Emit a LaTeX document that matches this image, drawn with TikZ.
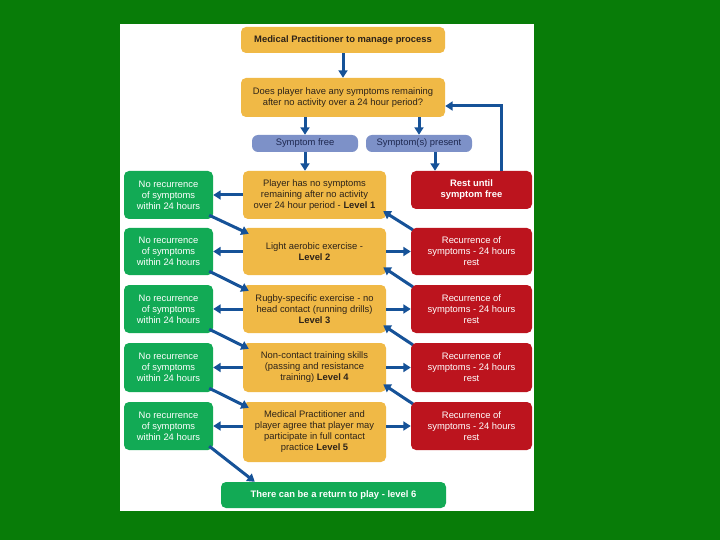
\documentclass[tikz,border=0pt]{standalone}
\usepackage{fontspec}
\setmainfont{Liberation Sans}
\usetikzlibrary{arrows.meta}
\definecolor{bggreen}{RGB}{8,124,8}
\definecolor{boxorange}{RGB}{240,185,70}
\definecolor{boxgreen}{RGB}{18,170,85}
\definecolor{boxred}{RGB}{188,20,30}
\definecolor{boxblue}{RGB}{125,145,200}
\definecolor{arrblue}{RGB}{22,82,152}
\definecolor{darktext}{RGB}{45,35,25}
\definecolor{navytext}{RGB}{30,40,80}
\tikzset{
  base/.style={rounded corners=5pt, inner sep=1pt, align=center, font=\fontsize{9.4}{11}\selectfont},
  obox/.style={base, fill=boxorange, text=darktext},
  gbox/.style={base, fill=boxgreen, text=white},
  rbox/.style={base, fill=boxred, text=white},
  pbox/.style={base, fill=boxblue, text=navytext, rounded corners=6pt},
  arr/.style={draw=arrblue, line width=3pt, -{Triangle[length=7.5pt,width=9pt]}},
}
\begin{document}
\begin{tikzpicture}[x=1pt,y=-1pt]
\fill[bggreen] (0,0) rectangle (720,540);
\useasboundingbox (0,0) rectangle (720,540);
\fill[white] (120,24) rectangle (534,511);

\node[obox, minimum width=204pt, minimum height=26pt] (top) at (343,40) {\textbf{Medical Practitioner to manage process}};
\node[obox, minimum width=204pt, minimum height=39pt] (q) at (343,97.5) {Does player have any symptoms remaining\\after no activity over a 24 hour period?};
\node[pbox, minimum width=106pt, minimum height=17pt] (sf) at (305,143.5) {Symptom free};
\node[pbox, minimum width=106pt, minimum height=17pt] (sp) at (419,143.5) {Symptom(s) present};
\node[rbox, minimum width=121pt, minimum height=38pt] (rest) at (471.5,190) {\textbf{Rest until}\\\textbf{symptom free}};

\node[obox, minimum width=143pt, minimum height=48pt] (l1) at (314.5,195) {Player has no symptoms\\remaining after no activity\\over 24 hour period - \textbf{Level 1}};
\node[obox, minimum width=143pt, minimum height=47pt] (l2) at (314.5,251.5) {Light aerobic exercise -\\\textbf{Level 2}};
\node[obox, minimum width=143pt, minimum height=48pt] (l3) at (314.5,309) {Rugby-specific exercise - no\\head contact (running drills)\\\textbf{Level 3}};
\node[obox, minimum width=143pt, minimum height=49pt] (l4) at (314.5,367.5) {Non-contact training skills\\(passing and resistance\\training) \textbf{Level 4}};
\node[obox, minimum width=143pt, minimum height=60pt] (l5) at (314.5,432) {Medical Practitioner and\\player agree that player may\\participate in full contact\\practice \textbf{Level 5}};

\node[gbox, minimum width=89pt, minimum height=48pt] (g1) at (168.5,195) {No recurrence\\of symptoms\\within 24 hours};
\node[gbox, minimum width=89pt, minimum height=47pt] (g2) at (168.5,251.5) {No recurrence\\of symptoms\\within 24 hours};
\node[gbox, minimum width=89pt, minimum height=48pt] (g3) at (168.5,309) {No recurrence\\of symptoms\\within 24 hours};
\node[gbox, minimum width=89pt, minimum height=49pt] (g4) at (168.5,367.5) {No recurrence\\of symptoms\\within 24 hours};
\node[gbox, minimum width=89pt, minimum height=48pt] (g5) at (168.5,426) {No recurrence\\of symptoms\\within 24 hours};

\node[rbox, minimum width=121pt, minimum height=47pt] (r2) at (471.5,251.5) {Recurrence of\\symptoms - 24 hours\\rest};
\node[rbox, minimum width=121pt, minimum height=48pt] (r3) at (471.5,309) {Recurrence of\\symptoms - 24 hours\\rest};
\node[rbox, minimum width=121pt, minimum height=49pt] (r4) at (471.5,367.5) {Recurrence of\\symptoms - 24 hours\\rest};
\node[rbox, minimum width=121pt, minimum height=48pt] (r5) at (471.5,426) {Recurrence of\\symptoms - 24 hours\\rest};

\node[gbox, minimum width=225pt, minimum height=26pt] (ret) at (333.5,495) {\textbf{There can be a return to play - level 6}};

% top flow
\draw[arr] (top) -- (q);
\draw[arr] (q.south -| sf.north) -- (sf.north);
\draw[arr] (q.south -| sp.north) -- (sp.north);
\draw[arr] (sf.south) -- (sf.south |- l1.north);
\draw[arr] ([xshift=16pt]sp.south) -- ([xshift=16pt]sp.south |- rest.north);
\draw[arr] ([xshift=29.5pt]rest.north) |- ([yshift=-8.5pt]q.east);

% left arrows
\foreach \i in {1,...,5} { \draw[arr] (l\i.west |- g\i) -- (g\i.east); }
% right arrows
\foreach \i in {2,...,5} { \draw[arr] (l\i.east |- r\i) -- (r\i.west); }
% green to next level
\foreach \i/\j in {1/2,2/3,3/4,4/5} {
  \draw[arr] ([xshift=-4pt,yshift=4pt]g\i.south east) -- ([xshift=6pt,yshift=-6pt]l\j.north west);
}
% red to previous level
\foreach \i/\j in {2/1,3/2,4/3,5/4} {
  \draw[arr] ([xshift=2pt,yshift=-2pt]r\i.north west) -- ([xshift=-3pt,yshift=8pt]l\j.south east);
}
\draw[arr] ([xshift=-4pt,yshift=4pt]g5.south east) -- ([xshift=34pt]ret.north west);
\end{tikzpicture}
\end{document}
